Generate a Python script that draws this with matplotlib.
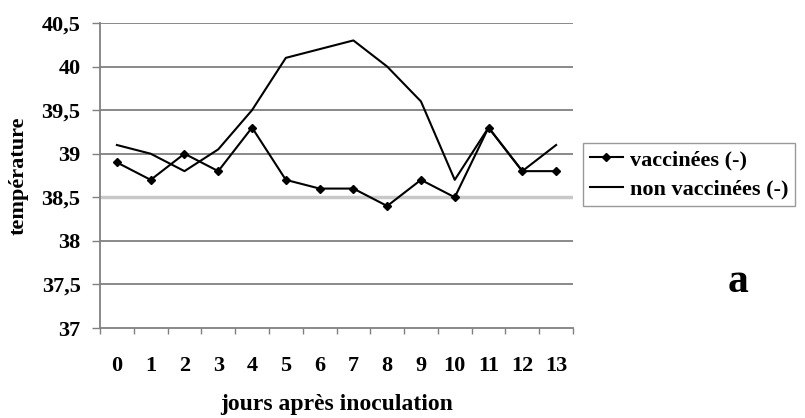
import matplotlib
matplotlib.use("Agg")

import matplotlib.pyplot as plt

days = list(range(14))
vaccinees = [38.9, 38.7, 39.0, 38.8, 39.3, 38.7, 38.6, 38.6, 38.4, 38.7, 38.5, 39.3, 38.8, 38.8]
non_vaccinees = [39.1, 39.0, 38.8, 39.05, 39.5, 40.1, 40.2, 40.3, 40.0, 39.6, 38.7, 39.3, 38.8, 39.1]
y_ticks = [37, 37.5, 38, 38.5, 39, 39.5, 40, 40.5]
y_labels = ["37", "37,5", "38", "38,5", "39", "39,5", "40", "40,5"]

plt.rcParams["font.family"] = ["Liberation Serif", "DejaVu Serif"]
plt.rcParams["font.weight"] = "bold"

fig = plt.figure(figsize=(8.05, 4.18), dpi=100)
ax = fig.add_axes([100 / 805, 1 - 328 / 418, 473 / 805, 305 / 418])

for yv in y_ticks[1:]:
    if yv == 38.5:
        ax.axhline(yv, color="#c8c8c8", lw=2.5, zorder=0)
    else:
        ax.axhline(yv, color="#808080", lw=1.3, zorder=0)

ax.plot(days, vaccinees, color="black", lw=1.5, marker="D", ms=4.5,
        label="vaccinées (-)", zorder=3)
ax.plot(days, non_vaccinees, color="black", lw=1.5,
        label="non vaccinées (-)", zorder=2)

ax.set_xlim(-0.5, 13.5)
ax.set_ylim(37, 40.5)
ax.set_yticks(y_ticks)
ax.set_yticklabels(y_labels, fontsize=16, fontweight="bold")
ax.set_xticks(days)
ax.set_xticklabels([str(d) for d in days], fontsize=16, fontweight="bold")
ax.set_xticks([d - 0.5 for d in range(15)], minor=True)
ax.tick_params(axis="x", which="major", length=0, pad=20)
ax.tick_params(axis="x", which="minor", length=4, color="#808080", width=1)
ax.tick_params(axis="y", length=6, color="#808080", width=1, pad=8)

for side in ["top", "right"]:
    ax.spines[side].set_visible(False)
for side in ["left", "bottom"]:
    ax.spines[side].set_color("#808080")
    ax.spines[side].set_linewidth(1.3)

ax.set_xlabel("jours après inoculation", fontsize=17, fontweight="bold", labelpad=13)
ax.set_ylabel("température", fontsize=16, fontweight="bold", labelpad=9)

leg = ax.legend(loc="upper left", bbox_to_anchor=(483 / 473, 185 / 305), frameon=True,
                fancybox=False, edgecolor="#808080", fontsize=16,
                handlelength=1.5, handletextpad=0.3, borderpad=0.3,
                labelspacing=0.4, borderaxespad=0)
leg.get_frame().set_linewidth(1.0)

fig.text(738 / 805, 1 - 282 / 418, "a", fontsize=30, fontweight="bold",
         ha="center", va="center")

fig.savefig("out.png", dpi=100)
